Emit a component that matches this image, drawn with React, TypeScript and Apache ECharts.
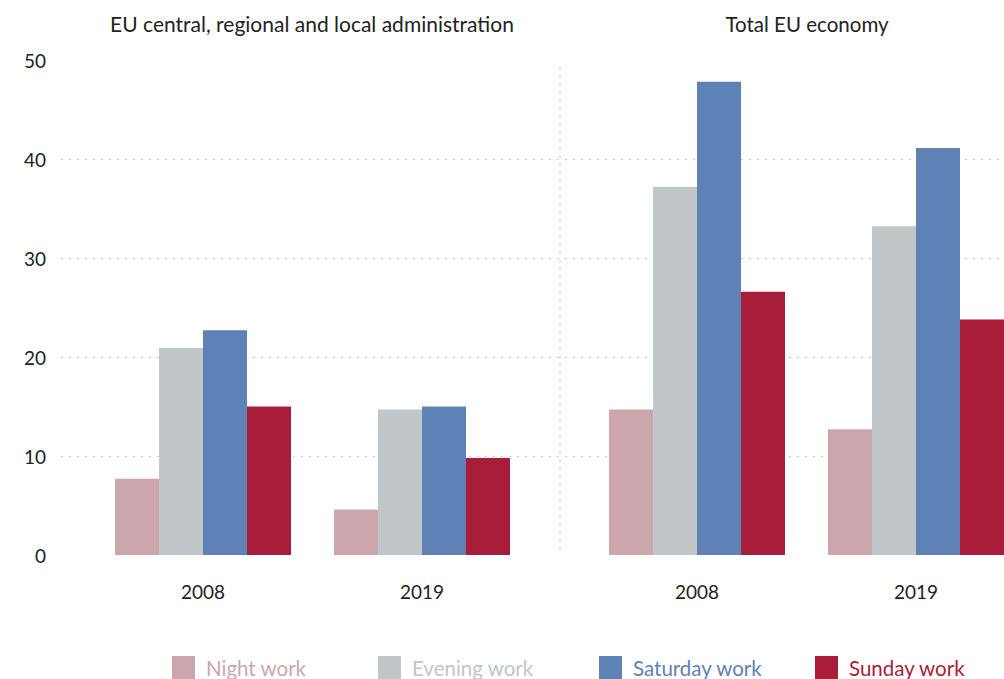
import React, { useEffect, useRef } from "react";
import * as echarts from "echarts";

const years = ["2008", "2019"];
const seriesNames = ["Night work", "Evening work", "Saturday work", "Sunday work"];
const colors = ["#CBA7AD", "#C1C6C9", "#5E82B5", "#A81D3A"];
// EU central, regional and local administration
const adminNight = [7.7, 4.6];
const adminEvening = [20.9, 14.7];
const adminSaturday = [22.7, 15.0];
const adminSunday = [15.0, 9.8];
// Total EU economy
const totalNight = [14.7, 12.7];
const totalEvening = [37.2, 33.2];
const totalSaturday = [47.8, 41.1];
const totalSunday = [26.6, 23.8];
const panelTitles = ["EU central, regional and local administration", "Total EU economy"];

const FONT = "Lato";
const CHART_W = 1026;

export default function App() {
  const ref = useRef<HTMLDivElement>(null);
  useEffect(() => {
    if (!ref.current) return;
    const chart = echarts.init(ref.current, undefined, { renderer: "svg" });
    const adminData = [adminNight, adminEvening, adminSaturday, adminSunday];
    const totalData = [totalNight, totalEvening, totalSaturday, totalSunday];
    const mk = (data: number[][], idx: number) =>
      data.map((d, i) => ({
        name: seriesNames[i],
        type: "bar",
        xAxisIndex: idx,
        yAxisIndex: idx,
        data: d,
        barWidth: 44,
        barGap: "0%",
        itemStyle: { color: colors[i] },
      }));
    const legendX = [172, 378, 599, 815];
    chart.setOption({
      animation: false,
      textStyle: { fontFamily: FONT },
      title: [
        { text: panelTitles[0], left: 307, top: 8, textAlign: "center", textStyle: { fontFamily: FONT, fontSize: 21, fontWeight: "normal", color: "#222" } },
        { text: panelTitles[1], left: 802, top: 8, textAlign: "center", textStyle: { fontFamily: FONT, fontSize: 20.5, fontWeight: "normal", color: "#222" } },
      ],
      legend: seriesNames.map((n, i) => ({
        data: [n],
        left: legendX[i],
        top: 656,
        padding: 0,
        itemWidth: 23,
        itemHeight: 23,
        itemGap: 10,
        icon: "rect",
        selectedMode: false,
        textStyle: { color: colors[i], fontSize: 20.5, fontFamily: FONT, padding: [0, 0, 0, 6] },
      })),
      grid: [
        { left: 93.5, right: CHART_W - 531.5, top: 60, bottom: 124 },
        { left: 587.5, right: CHART_W - 1025.5, top: 60, bottom: 124 },
        { left: 61, right: CHART_W - 1004, top: 60, bottom: 124 },
      ],
      xAxis: [0, 1].map((g) => ({
        type: "category",
        gridIndex: g,
        data: years,
        axisLine: { show: false },
        axisTick: { show: false },
        axisLabel: { color: "#222", fontSize: 19, margin: 27, fontFamily: FONT },
      })).concat([{ type: "category", gridIndex: 2, data: ["a"], show: false } as any]),
      yAxis: [
        { type: "value", gridIndex: 0, min: 0, max: 50, interval: 10, splitLine: { show: false }, axisLabel: { color: "#222", fontSize: 19, margin: 47.5, fontFamily: FONT } },
        { type: "value", gridIndex: 1, min: 0, max: 50, interval: 10, splitLine: { show: false }, axisLabel: { show: false } },
        {
          type: "value", gridIndex: 2, min: 0, max: 50, interval: 10,
          axisLabel: { show: false }, axisLine: { show: false }, axisTick: { show: false },
          splitLine: { show: true, showMinLine: false, showMaxLine: false, lineStyle: { color: "#c8c8c8", type: [2, 6], width: 1.2 } },
        },
      ],
      graphic: [
        { type: "line", shape: { x1: 560, y1: 68, x2: 560, y2: 555 }, style: { stroke: "#c8c8c8", lineWidth: 1.2, lineDash: [2, 6] }, z: -1 },
      ],
      series: [...mk(adminData, 0), ...mk(totalData, 1)],
    });
    return () => chart.dispose();
  }, []);
  return (
    <div style={{ position: "absolute", left: 0, top: 0, width: 1004, height: 679, overflow: "hidden" }}>
      <div ref={ref} style={{ width: CHART_W, height: 679 }} />
    </div>
  );
}
